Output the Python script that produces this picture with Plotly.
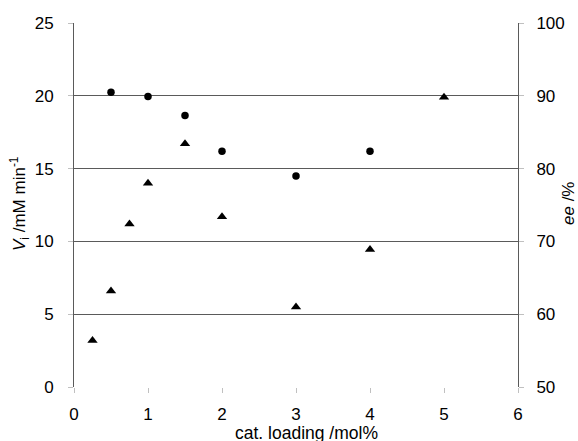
import plotly.graph_objects as go

loading_ee = [0.5, 1, 1.5, 2, 3, 4]
ee_values = [90.5, 89.9, 87.3, 82.4, 79.0, 82.4]

loading_vi = [0.25, 0.5, 0.75, 1, 1.5, 2, 3, 4, 5]
vi_values = [3.2, 6.6, 11.2, 14.0, 16.7, 11.7, 5.5, 9.45, 19.9]

x_ticks = [0, 1, 2, 3, 4, 5, 6]

font = "Liberation Sans, Arial, sans-serif"

fig = go.Figure()
fig.add_trace(go.Scatter(x=loading_vi, y=vi_values, mode="markers",
                         marker=dict(symbol="triangle-up", size=9, color="black"),
                         yaxis="y", showlegend=False))
fig.add_trace(go.Scatter(x=loading_ee, y=ee_values, mode="markers",
                         marker=dict(symbol="circle", size=7.5, color="black"),
                         yaxis="y2", showlegend=False))

L, R, T, B = 74, 60, 23, 54
W, H = 578, 441
pw, ph = W - L - R, H - T - B

def px(x):
    return (x - L) / pw

def py(y):
    return (H - B - y) / ph

fig.update_layout(
    width=W, height=H,
    margin=dict(l=L, r=R, t=T, b=B, autoexpand=False),
    paper_bgcolor="white", plot_bgcolor="white",
    font=dict(family=font, size=17, color="black"),
    xaxis=dict(range=[0, 6], tickvals=x_ticks, showgrid=False, showline=False,
               zeroline=False, ticks="outside", ticklen=5, tickcolor="#c0c0c0",
               tickfont=dict(size=17), ticklabelstandoff=7, automargin=False),
    yaxis=dict(range=[0, 25], dtick=5, showgrid=True, gridcolor="#5a5a5a", gridwidth=1,
               showline=True, linecolor="#5a5a5a", linewidth=1, zeroline=False,
               ticks="outside", ticklen=5, tickcolor="#c0c0c0", tickfont=dict(size=17),
               ticklabelstandoff=11, automargin=False),
    yaxis2=dict(range=[50, 100], dtick=10, overlaying="y", side="right", showgrid=False,
                showline=True, linecolor="#5a5a5a", linewidth=1, zeroline=False,
                ticks="outside", ticklen=5, tickcolor="#c0c0c0", tickfont=dict(size=17),
                ticklabelstandoff=9, automargin=False),
    annotations=[
        dict(text="<i>V</i><sub>i</sub> /mM min<sup>-1</sup>", xref="paper", yref="paper",
             x=px(19), y=py(204), xanchor="center", yanchor="middle", textangle=-90,
             showarrow=False, font=dict(size=17)),
        dict(text="<i>ee</i> /%", xref="paper", yref="paper",
             x=px(568), y=py(204), xanchor="center", yanchor="middle", textangle=-90,
             showarrow=False, font=dict(size=17)),
        dict(text="cat. loading /mol%", xref="paper", yref="paper",
             x=px(306), y=py(433), xanchor="center", yanchor="middle",
             showarrow=False, font=dict(size=17.5)),
    ],
)

fig.write_html("out.html", config={"displayModeBar": False},
               post_script="document.body.style.margin='0';document.body.style.padding='0';")
